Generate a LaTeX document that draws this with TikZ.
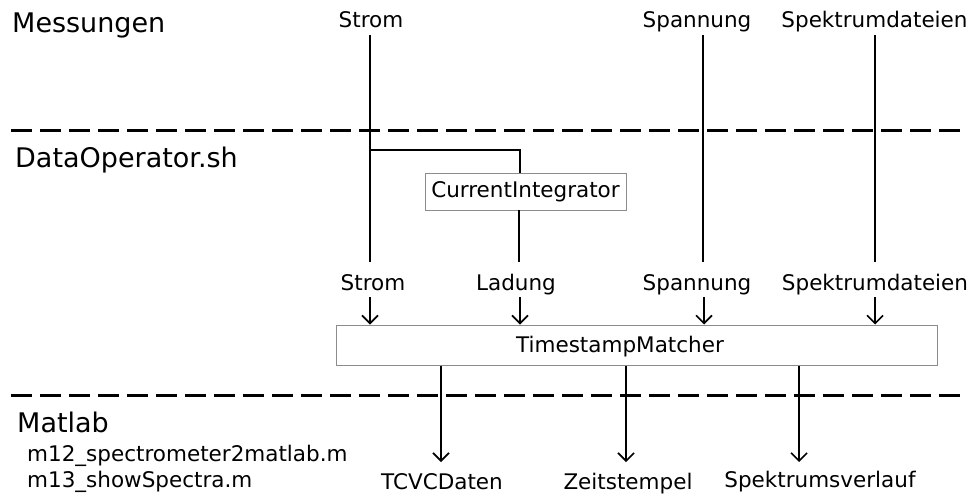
\documentclass[tikz,border=0pt]{standalone}
\usepackage{fontspec}
\setmainfont{DejaVu Sans}
\usetikzlibrary{arrows.meta}
\begin{document}
\begin{tikzpicture}[x=1pt,y=-1pt,
  lbl/.style={font=\fontsize{21.5}{24}\selectfont, anchor=base, inner sep=0pt},
  big/.style={font=\fontsize{27}{30}\selectfont, anchor=base west, inner sep=0pt},
  sml/.style={font=\fontsize{21.5}{24}\selectfont, anchor=base west, inner sep=0pt},
  procbox/.style={draw=black!45, line width=1pt, inner sep=0pt},
  sep/.style={line width=3pt, dash pattern=on 21pt off 8pt},
  flow/.style={line width=1.6pt},
  arr/.style={flow, -{Straight Barb[length=8pt,width=16pt,line width=1.6pt]}}]
\useasboundingbox (0,0) rectangle (967,493);

% section separators
\coordinate (d1l) at (11,130);  \coordinate (d1r) at (967,130);
\coordinate (d2l) at (11,395.5); \coordinate (d2r) at (967,395.5);
\draw[sep] (d1l) -- (d1r);
\draw[sep] (d2l) -- (d2r);

% section titles
\node[big] (mess) at (12,32) {Messungen};
\node[big] (dataop) at (15,167) {DataOperator.sh};
\node[big] (matlab) at (17,432) {Matlab};
\node[sml] (m12) at (27,461) {m12\_spectrometer2matlab.m};
\node[sml] (m13) at (27,487) {m13\_showSpectra.m};

% top labels
\node[lbl] (tstrom) at (371,27) {Strom};
\node[lbl] (tspann) at (697,27) {Spannung};
\node[lbl] (tspek) at (874.5,27) {Spektrumdateien};

% current integrator
\node[procbox, minimum width=201pt, minimum height=37pt,
      font=\fontsize{21.5}{24}\selectfont] (ci) at (525.5,191.5) {CurrentIntegrator};

% vertical lines
\coordinate (s1a) at (370,35);  \coordinate (s1b) at (370,262);
\coordinate (s2a) at (703,35);  \coordinate (s2b) at (703,262);
\coordinate (s3a) at (875,35);  \coordinate (s3b) at (875,262);
\coordinate (br) at (370,150);
\coordinate (brc) at (520,150);
\coordinate (ciin) at (520,173);
\coordinate (ciout) at (519,210);
\coordinate (ciend) at (519,262);
\draw[flow] (s1a) -- (s1b);
\draw[flow] (s2a) -- (s2b);
\draw[flow] (s3a) -- (s3b);
\draw[flow] (br) -- (brc) -- (ciin);
\draw[flow] (ciout) -- (ciend);

% second row labels
\node[lbl] (bstrom) at (373,290) {Strom};
\node[lbl] (blad) at (516,290) {Ladung};
\node[lbl] (bspann) at (697,290) {Spannung};
\node[lbl] (bspek) at (875,290) {Spektrumdateien};

% timestamp matcher
\node[procbox, minimum width=600.6pt, minimum height=40pt] (tsm) at (637,345) {};
\node[lbl] (tsmtext) at (620,352) {TimestampMatcher};

\coordinate (a1) at (370,297);
\coordinate (a2) at (520,297);
\coordinate (a3) at (704,297);
\coordinate (a4) at (875,297);
\draw[arr] (a1) -- (a1 |- tsm.north);
\draw[arr] (a2) -- (a2 |- tsm.north);
\draw[arr] (a3) -- (a3 |- tsm.north);
\draw[arr] (a4) -- (a4 |- tsm.north);

% outputs
\coordinate (o1) at (441,462);
\coordinate (o2) at (626,462);
\coordinate (o3) at (799,462);
\draw[arr] (o1 |- tsm.south) -- (o1);
\draw[arr] (o2 |- tsm.south) -- (o2);
\draw[arr] (o3 |- tsm.south) -- (o3);

\node[lbl] (tcvc) at (442,489.5) {TCVCDaten};
\node[lbl] (zeit) at (628,489) {Zeitstempel};
\node[lbl] (spverl) at (820,487) {Spektrumsverlauf};
\end{tikzpicture}
\end{document}
